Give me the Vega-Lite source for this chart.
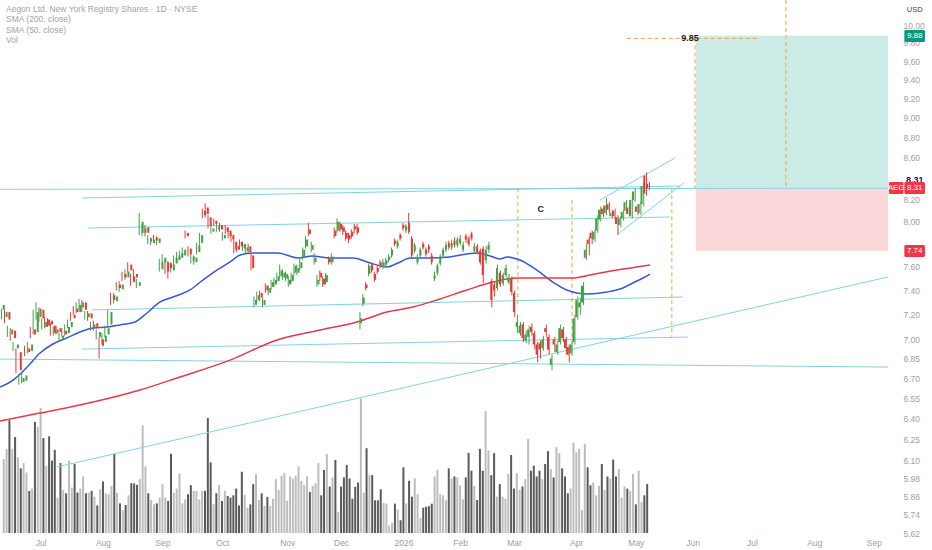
{
  "$schema": "https://vega.github.io/schema/vega-lite/v6.json",
  "description": "Aegon daily candles with SMA 50/200, volume, trendlines and a long-position box.",
  "width": 888,
  "height": 533,
  "autosize": {"type": "none"},
  "padding": {"left": 0, "top": 0, "right": 44, "bottom": 17},
  "background": "#ffffff",
  "title": {
    "text": ["Aegon Ltd. New York Registry Shares · 1D · NYSE", "SMA (200, close)", "SMA (50, close)", "Vol"],
    "anchor": "start",
    "frame": "group",
    "orient": "top",
    "baseline": "top",
    "offset": 0,
    "dx": 6,
    "dy": 45,
    "font": "Liberation Sans",
    "fontSize": 8.5,
    "fontWeight": "normal",
    "color": "#a3a3a3",
    "lineHeight": 10.3
  },
  "datasets": {
    "candles": [
      {"i":-13,"o":7.24,"h":7.30,"l":7.22,"c":7.28,"v":5.50},
      {"i":-12,"o":7.18,"h":7.25,"l":7.16,"c":7.22,"v":6.25},
      {"i":-11,"o":7.22,"h":7.24,"l":7.13,"c":7.16,"v":8.38},
      {"i":-10,"o":7.04,"h":7.11,"l":7.02,"c":7.08,"v":6.25},
      {"i":-9,"o":7.07,"h":7.09,"l":6.99,"c":7.01,"v":7.13},
      {"i":-8,"o":6.93,"h":6.98,"l":6.91,"c":6.96,"v":5.63},
      {"i":-7,"o":6.90,"h":6.93,"l":6.74,"c":6.76,"v":4.80},
      {"i":-6,"o":6.67,"h":6.73,"l":6.65,"c":6.70,"v":5.20},
      {"i":-5,"o":6.68,"h":6.75,"l":6.66,"c":6.72,"v":4.50},
      {"i":-4,"o":6.93,"h":6.95,"l":6.87,"c":6.90,"v":3.13},
      {"i":-3,"o":6.91,"h":6.98,"l":6.89,"c":6.96,"v":3.30},
      {"i":-2,"o":7.08,"h":7.10,"l":7.01,"c":7.04,"v":8.25},
      {"i":-1,"o":7.06,"h":7.24,"l":7.04,"c":7.22,"v":7.88},
      {"i":0,"o":7.18,"h":7.30,"l":7.16,"c":7.25,"v":9.30},
      {"i":1,"o":7.24,"h":7.26,"l":7.14,"c":7.17,"v":7.05},
      {"i":2,"o":7.10,"h":7.17,"l":7.08,"c":7.14,"v":5.00},
      {"i":3,"o":7.16,"h":7.18,"l":7.09,"c":7.11,"v":7.18},
      {"i":4,"o":7.15,"h":7.17,"l":7.10,"c":7.12,"v":5.38},
      {"i":5,"o":7.11,"h":7.13,"l":7.03,"c":7.05,"v":6.18},
      {"i":6,"o":7.05,"h":7.10,"l":7.03,"c":7.08,"v":2.63},
      {"i":7,"o":7.09,"h":7.11,"l":7.04,"c":7.06,"v":5.20},
      {"i":8,"o":7.00,"h":7.05,"l":6.98,"c":7.03,"v":3.20},
      {"i":9,"o":7.07,"h":7.09,"l":7.02,"c":7.04,"v":2.95},
      {"i":10,"o":7.05,"h":7.12,"l":7.03,"c":7.10,"v":5.38},
      {"i":11,"o":7.10,"h":7.16,"l":7.09,"c":7.14,"v":3.38},
      {"i":12,"o":7.20,"h":7.22,"l":7.15,"c":7.17,"v":5.13},
      {"i":13,"o":7.25,"h":7.27,"l":7.20,"c":7.22,"v":3.00},
      {"i":14,"o":7.22,"h":7.30,"l":7.21,"c":7.28,"v":3.30},
      {"i":15,"o":7.26,"h":7.33,"l":7.24,"c":7.30,"v":4.20},
      {"i":16,"o":7.30,"h":7.32,"l":7.22,"c":7.24,"v":2.95},
      {"i":17,"o":7.18,"h":7.23,"l":7.16,"c":7.21,"v":3.00},
      {"i":18,"o":7.21,"h":7.23,"l":7.15,"c":7.17,"v":3.13},
      {"i":19,"o":7.09,"h":7.14,"l":7.07,"c":7.12,"v":2.70},
      {"i":20,"o":7.13,"h":7.15,"l":7.07,"c":7.09,"v":2.05},
      {"i":21,"o":7.02,"h":7.08,"l":7.00,"c":7.06,"v":3.25},
      {"i":22,"o":7.00,"h":7.02,"l":6.85,"c":6.95,"v":3.83},
      {"i":23,"o":6.98,"h":7.05,"l":6.96,"c":7.03,"v":2.95},
      {"i":24,"o":7.04,"h":7.11,"l":7.02,"c":7.09,"v":2.88},
      {"i":25,"o":7.12,"h":7.24,"l":7.10,"c":7.22,"v":3.50},
      {"i":26,"o":7.36,"h":7.38,"l":7.28,"c":7.32,"v":5.88},
      {"i":27,"o":7.31,"h":7.38,"l":7.29,"c":7.35,"v":3.00},
      {"i":28,"o":7.45,"h":7.47,"l":7.40,"c":7.42,"v":2.20},
      {"i":29,"o":7.41,"h":7.48,"l":7.39,"c":7.45,"v":1.70},
      {"i":30,"o":7.54,"h":7.56,"l":7.48,"c":7.51,"v":2.08},
      {"i":31,"o":7.51,"h":7.58,"l":7.49,"c":7.56,"v":2.80},
      {"i":32,"o":7.62,"h":7.64,"l":7.55,"c":7.57,"v":3.70},
      {"i":33,"o":7.52,"h":7.54,"l":7.44,"c":7.47,"v":3.68},
      {"i":34,"o":7.54,"h":7.58,"l":7.49,"c":7.51,"v":3.58},
      {"i":35,"o":7.44,"h":7.50,"l":7.42,"c":7.47,"v":4.00},
      {"i":36,"o":7.90,"h":8.08,"l":7.88,"c":8.00,"v":8.00},
      {"i":37,"o":7.90,"h":7.98,"l":7.87,"c":7.94,"v":4.95},
      {"i":38,"o":7.95,"h":7.97,"l":7.87,"c":7.90,"v":2.95},
      {"i":39,"o":7.82,"h":7.88,"l":7.80,"c":7.85,"v":2.45},
      {"i":40,"o":7.81,"h":7.86,"l":7.79,"c":7.84,"v":2.13},
      {"i":41,"o":7.86,"h":7.88,"l":7.81,"c":7.83,"v":2.20},
      {"i":42,"o":7.81,"h":7.87,"l":7.79,"c":7.85,"v":2.63},
      {"i":43,"o":7.58,"h":7.67,"l":7.56,"c":7.64,"v":3.63},
      {"i":44,"o":7.64,"h":7.71,"l":7.62,"c":7.68,"v":2.63},
      {"i":45,"o":7.64,"h":7.66,"l":7.54,"c":7.56,"v":2.38},
      {"i":46,"o":7.63,"h":7.65,"l":7.50,"c":7.59,"v":5.88},
      {"i":47,"o":7.57,"h":7.64,"l":7.55,"c":7.62,"v":3.00},
      {"i":48,"o":7.63,"h":7.70,"l":7.61,"c":7.68,"v":3.30},
      {"i":49,"o":7.66,"h":7.73,"l":7.64,"c":7.70,"v":4.43},
      {"i":50,"o":7.68,"h":7.74,"l":7.66,"c":7.72,"v":2.20},
      {"i":51,"o":7.70,"h":7.77,"l":7.68,"c":7.75,"v":2.50},
      {"i":52,"o":7.90,"h":7.92,"l":7.85,"c":7.87,"v":2.88},
      {"i":53,"o":7.76,"h":7.78,"l":7.69,"c":7.71,"v":3.55},
      {"i":54,"o":7.65,"h":7.72,"l":7.63,"c":7.69,"v":3.13},
      {"i":55,"o":7.64,"h":7.70,"l":7.62,"c":7.68,"v":3.13},
      {"i":56,"o":7.73,"h":7.81,"l":7.71,"c":7.79,"v":2.50},
      {"i":57,"o":7.81,"h":7.90,"l":7.79,"c":7.88,"v":3.13},
      {"i":58,"o":8.10,"h":8.12,"l":8.03,"c":8.06,"v":3.13},
      {"i":59,"o":8.13,"h":8.17,"l":8.04,"c":8.07,"v":8.55},
      {"i":60,"o":8.04,"h":8.06,"l":7.94,"c":7.96,"v":5.25},
      {"i":61,"o":7.91,"h":7.97,"l":7.89,"c":7.94,"v":2.13},
      {"i":62,"o":8.01,"h":8.03,"l":7.96,"c":7.98,"v":2.95},
      {"i":63,"o":7.93,"h":7.99,"l":7.91,"c":7.96,"v":3.58},
      {"i":64,"o":7.97,"h":7.99,"l":7.91,"c":7.93,"v":2.38},
      {"i":65,"o":7.85,"h":7.91,"l":7.83,"c":7.88,"v":3.13},
      {"i":66,"o":7.95,"h":7.97,"l":7.89,"c":7.91,"v":2.75},
      {"i":67,"o":7.92,"h":7.94,"l":7.85,"c":7.87,"v":2.63},
      {"i":68,"o":7.88,"h":7.90,"l":7.82,"c":7.84,"v":2.80},
      {"i":69,"o":7.82,"h":7.84,"l":7.72,"c":7.75,"v":3.30},
      {"i":70,"o":7.78,"h":7.80,"l":7.73,"c":7.75,"v":2.05},
      {"i":71,"o":7.82,"h":7.84,"l":7.76,"c":7.78,"v":4.55},
      {"i":72,"o":7.76,"h":7.82,"l":7.74,"c":7.80,"v":2.83},
      {"i":73,"o":7.74,"h":7.80,"l":7.72,"c":7.77,"v":1.88},
      {"i":74,"o":7.78,"h":7.80,"l":7.71,"c":7.73,"v":2.13},
      {"i":75,"o":7.70,"h":7.72,"l":7.57,"c":7.59,"v":3.63},
      {"i":76,"o":7.28,"h":7.35,"l":7.26,"c":7.32,"v":4.38},
      {"i":77,"o":7.32,"h":7.39,"l":7.30,"c":7.36,"v":2.45},
      {"i":78,"o":7.38,"h":7.40,"l":7.31,"c":7.34,"v":2.95},
      {"i":79,"o":7.28,"h":7.34,"l":7.26,"c":7.32,"v":2.00},
      {"i":80,"o":7.44,"h":7.46,"l":7.38,"c":7.40,"v":2.68},
      {"i":81,"o":7.38,"h":7.44,"l":7.36,"c":7.42,"v":2.00},
      {"i":82,"o":7.43,"h":7.49,"l":7.41,"c":7.47,"v":2.55},
      {"i":83,"o":7.45,"h":7.51,"l":7.43,"c":7.49,"v":4.00},
      {"i":84,"o":7.48,"h":7.55,"l":7.46,"c":7.52,"v":3.20},
      {"i":85,"o":7.52,"h":7.62,"l":7.50,"c":7.57,"v":4.25},
      {"i":86,"o":7.51,"h":7.58,"l":7.49,"c":7.55,"v":4.45},
      {"i":87,"o":7.50,"h":7.56,"l":7.48,"c":7.54,"v":2.40},
      {"i":88,"o":7.45,"h":7.52,"l":7.43,"c":7.49,"v":4.20},
      {"i":89,"o":7.48,"h":7.55,"l":7.46,"c":7.53,"v":4.05},
      {"i":90,"o":7.55,"h":7.63,"l":7.53,"c":7.61,"v":4.25},
      {"i":91,"o":7.55,"h":7.62,"l":7.53,"c":7.59,"v":4.95},
      {"i":92,"o":7.59,"h":7.67,"l":7.57,"c":7.64,"v":3.88},
      {"i":93,"o":7.68,"h":7.77,"l":7.66,"c":7.75,"v":3.55},
      {"i":94,"o":7.78,"h":7.87,"l":7.76,"c":7.84,"v":4.20},
      {"i":95,"o":7.93,"h":7.99,"l":7.87,"c":7.89,"v":3.05},
      {"i":96,"o":7.75,"h":7.82,"l":7.73,"c":7.79,"v":3.50},
      {"i":97,"o":7.64,"h":7.72,"l":7.62,"c":7.68,"v":3.70},
      {"i":98,"o":7.45,"h":7.53,"l":7.43,"c":7.49,"v":5.20},
      {"i":99,"o":7.55,"h":7.57,"l":7.48,"c":7.51,"v":2.80},
      {"i":100,"o":7.50,"h":7.52,"l":7.43,"c":7.45,"v":4.68},
      {"i":101,"o":7.47,"h":7.55,"l":7.45,"c":7.53,"v":5.88},
      {"i":102,"o":7.67,"h":7.69,"l":7.62,"c":7.64,"v":3.45},
      {"i":103,"o":7.64,"h":7.72,"l":7.62,"c":7.69,"v":4.13},
      {"i":104,"o":7.92,"h":7.95,"l":7.85,"c":7.87,"v":5.43},
      {"i":105,"o":7.92,"h":8.03,"l":7.90,"c":8.00,"v":1.58},
      {"i":106,"o":7.98,"h":8.00,"l":7.91,"c":7.93,"v":3.45},
      {"i":107,"o":7.95,"h":7.97,"l":7.88,"c":7.91,"v":4.13},
      {"i":108,"o":7.90,"h":7.92,"l":7.83,"c":7.85,"v":5.05},
      {"i":109,"o":7.88,"h":7.90,"l":7.81,"c":7.84,"v":4.05},
      {"i":110,"o":7.91,"h":7.93,"l":7.85,"c":7.87,"v":2.55},
      {"i":111,"o":7.96,"h":7.98,"l":7.90,"c":7.93,"v":3.43},
      {"i":112,"o":7.95,"h":7.98,"l":7.88,"c":7.90,"v":3.75},
      {"i":113,"o":7.13,"h":7.22,"l":7.08,"c":7.17,"v":10.00},
      {"i":114,"o":7.29,"h":7.37,"l":7.27,"c":7.34,"v":3.00},
      {"i":115,"o":7.45,"h":7.47,"l":7.40,"c":7.42,"v":6.30},
      {"i":116,"o":7.54,"h":7.63,"l":7.52,"c":7.61,"v":4.30},
      {"i":117,"o":7.62,"h":7.64,"l":7.55,"c":7.57,"v":4.30},
      {"i":118,"o":7.54,"h":7.56,"l":7.47,"c":7.49,"v":2.43},
      {"i":119,"o":7.59,"h":7.61,"l":7.54,"c":7.56,"v":2.43},
      {"i":120,"o":7.64,"h":7.66,"l":7.59,"c":7.61,"v":3.25},
      {"i":121,"o":7.60,"h":7.67,"l":7.58,"c":7.64,"v":2.25},
      {"i":122,"o":7.62,"h":7.68,"l":7.60,"c":7.66,"v":2.18},
      {"i":123,"o":7.66,"h":7.71,"l":7.64,"c":7.69,"v":0.55},
      {"i":124,"o":7.70,"h":7.77,"l":7.68,"c":7.75,"v":0.75},
      {"i":125,"o":7.83,"h":7.85,"l":7.78,"c":7.80,"v":2.18},
      {"i":126,"o":7.78,"h":7.84,"l":7.76,"c":7.82,"v":1.75},
      {"i":127,"o":7.88,"h":7.90,"l":7.83,"c":7.85,"v":0.95},
      {"i":128,"o":7.97,"h":7.99,"l":7.92,"c":7.94,"v":4.88},
      {"i":129,"o":7.92,"h":7.98,"l":7.90,"c":7.96,"v":2.20},
      {"i":130,"o":7.99,"h":8.08,"l":7.89,"c":7.91,"v":3.88},
      {"i":131,"o":7.85,"h":7.87,"l":7.68,"c":7.70,"v":2.70},
      {"i":132,"o":7.74,"h":7.81,"l":7.72,"c":7.79,"v":4.05},
      {"i":133,"o":7.64,"h":7.71,"l":7.62,"c":7.68,"v":2.88},
      {"i":134,"o":7.70,"h":7.77,"l":7.68,"c":7.75,"v":1.13},
      {"i":135,"o":7.80,"h":7.82,"l":7.75,"c":7.77,"v":1.88},
      {"i":136,"o":7.75,"h":7.77,"l":7.69,"c":7.71,"v":1.95},
      {"i":137,"o":7.78,"h":7.80,"l":7.72,"c":7.75,"v":2.00},
      {"i":138,"o":7.70,"h":7.72,"l":7.62,"c":7.64,"v":2.18},
      {"i":139,"o":7.50,"h":7.56,"l":7.48,"c":7.53,"v":4.20},
      {"i":140,"o":7.55,"h":7.63,"l":7.53,"c":7.61,"v":4.70},
      {"i":141,"o":7.63,"h":7.71,"l":7.61,"c":7.69,"v":2.88},
      {"i":142,"o":7.70,"h":7.77,"l":7.68,"c":7.75,"v":2.80},
      {"i":143,"o":7.75,"h":7.82,"l":7.73,"c":7.79,"v":2.43},
      {"i":144,"o":7.81,"h":7.83,"l":7.75,"c":7.77,"v":4.80},
      {"i":145,"o":7.77,"h":7.84,"l":7.75,"c":7.81,"v":4.05},
      {"i":146,"o":7.83,"h":7.86,"l":7.77,"c":7.79,"v":4.20},
      {"i":147,"o":7.79,"h":7.86,"l":7.77,"c":7.84,"v":4.13},
      {"i":148,"o":7.81,"h":7.88,"l":7.79,"c":7.85,"v":3.55},
      {"i":149,"o":7.75,"h":7.82,"l":7.73,"c":7.79,"v":2.50},
      {"i":150,"o":7.87,"h":7.89,"l":7.81,"c":7.84,"v":4.13},
      {"i":151,"o":7.85,"h":7.87,"l":7.78,"c":7.80,"v":5.95},
      {"i":152,"o":7.89,"h":7.91,"l":7.83,"c":7.85,"v":4.63},
      {"i":153,"o":7.74,"h":7.81,"l":7.72,"c":7.78,"v":3.50},
      {"i":154,"o":7.78,"h":7.80,"l":7.71,"c":7.73,"v":2.45},
      {"i":155,"o":7.74,"h":7.76,"l":7.62,"c":7.64,"v":6.25},
      {"i":156,"o":7.76,"h":7.78,"l":7.46,"c":7.53,"v":4.63},
      {"i":157,"o":7.66,"h":7.78,"l":7.63,"c":7.75,"v":9.05},
      {"i":158,"o":7.75,"h":7.82,"l":7.72,"c":7.79,"v":6.13},
      {"i":159,"o":7.48,"h":7.50,"l":7.26,"c":7.32,"v":4.30},
      {"i":160,"o":7.45,"h":7.47,"l":7.35,"c":7.40,"v":5.93},
      {"i":161,"o":7.42,"h":7.62,"l":7.40,"c":7.59,"v":2.70},
      {"i":162,"o":7.55,"h":7.57,"l":7.43,"c":7.45,"v":3.63},
      {"i":163,"o":7.46,"h":7.55,"l":7.44,"c":7.53,"v":2.70},
      {"i":164,"o":7.53,"h":7.62,"l":7.51,"c":7.59,"v":2.55},
      {"i":165,"o":7.47,"h":7.54,"l":7.45,"c":7.51,"v":4.38},
      {"i":166,"o":7.50,"h":7.52,"l":7.36,"c":7.39,"v":5.80},
      {"i":167,"o":7.38,"h":7.40,"l":7.18,"c":7.22,"v":3.30},
      {"i":168,"o":7.10,"h":7.20,"l":7.05,"c":7.14,"v":4.45},
      {"i":169,"o":7.05,"h":7.14,"l":7.03,"c":7.11,"v":3.20},
      {"i":170,"o":7.12,"h":7.14,"l":6.98,"c":7.01,"v":3.45},
      {"i":171,"o":6.99,"h":7.07,"l":6.97,"c":7.04,"v":4.00},
      {"i":172,"o":7.02,"h":7.11,"l":6.96,"c":7.08,"v":7.00},
      {"i":173,"o":7.10,"h":7.13,"l":7.03,"c":7.06,"v":4.63},
      {"i":174,"o":7.05,"h":7.07,"l":6.92,"c":6.96,"v":5.00},
      {"i":175,"o":6.96,"h":6.98,"l":6.82,"c":6.88,"v":4.20},
      {"i":176,"o":6.97,"h":6.99,"l":6.85,"c":6.92,"v":4.63},
      {"i":177,"o":6.93,"h":7.03,"l":6.91,"c":7.00,"v":4.00},
      {"i":178,"o":7.09,"h":7.12,"l":7.02,"c":7.06,"v":5.13},
      {"i":179,"o":7.02,"h":7.04,"l":6.88,"c":6.92,"v":6.08},
      {"i":180,"o":6.80,"h":6.88,"l":6.76,"c":6.85,"v":4.75},
      {"i":181,"o":7.00,"h":7.02,"l":6.90,"c":6.96,"v":4.13},
      {"i":182,"o":6.90,"h":6.99,"l":6.88,"c":6.96,"v":6.38},
      {"i":183,"o":6.98,"h":7.12,"l":6.96,"c":7.09,"v":5.93},
      {"i":184,"o":7.08,"h":7.10,"l":6.98,"c":7.01,"v":4.80},
      {"i":185,"o":7.00,"h":7.02,"l":6.88,"c":6.93,"v":4.20},
      {"i":186,"o":6.94,"h":6.96,"l":6.82,"c":6.88,"v":2.95},
      {"i":187,"o":6.89,"h":6.98,"l":6.87,"c":6.96,"v":3.30},
      {"i":188,"o":6.98,"h":7.20,"l":6.96,"c":7.17,"v":6.70},
      {"i":189,"o":7.18,"h":7.35,"l":7.16,"c":7.32,"v":6.00},
      {"i":190,"o":7.26,"h":7.34,"l":7.20,"c":7.30,"v":6.25},
      {"i":191,"o":7.30,"h":7.47,"l":7.28,"c":7.44,"v":1.70},
      {"i":192,"o":7.68,"h":7.80,"l":7.66,"c":7.75,"v":6.63},
      {"i":193,"o":7.84,"h":7.86,"l":7.70,"c":7.80,"v":4.88},
      {"i":194,"o":7.90,"h":7.92,"l":7.80,"c":7.85,"v":3.55},
      {"i":195,"o":7.84,"h":7.93,"l":7.82,"c":7.91,"v":3.75},
      {"i":196,"o":7.92,"h":8.06,"l":7.90,"c":8.03,"v":2.80},
      {"i":197,"o":8.02,"h":8.14,"l":8.00,"c":8.11,"v":3.50},
      {"i":198,"o":8.12,"h":8.14,"l":8.04,"c":8.07,"v":5.13},
      {"i":199,"o":8.08,"h":8.22,"l":8.06,"c":8.15,"v":3.20},
      {"i":200,"o":8.16,"h":8.18,"l":8.08,"c":8.11,"v":4.20},
      {"i":201,"o":8.05,"h":8.11,"l":8.03,"c":8.08,"v":4.05},
      {"i":202,"o":8.10,"h":8.12,"l":8.02,"c":8.05,"v":5.45},
      {"i":203,"o":8.04,"h":8.06,"l":7.88,"c":7.98,"v":4.20},
      {"i":204,"o":7.97,"h":8.05,"l":7.95,"c":8.03,"v":4.75},
      {"i":205,"o":8.03,"h":8.11,"l":8.01,"c":8.09,"v":2.63},
      {"i":206,"o":8.10,"h":8.20,"l":8.08,"c":8.18,"v":3.45},
      {"i":207,"o":8.13,"h":8.15,"l":8.05,"c":8.07,"v":3.30},
      {"i":208,"o":8.05,"h":8.23,"l":8.03,"c":8.20,"v":3.13},
      {"i":209,"o":8.20,"h":8.31,"l":8.18,"c":8.28,"v":4.38},
      {"i":210,"o":8.14,"h":8.16,"l":8.06,"c":8.09,"v":2.13},
      {"i":211,"o":8.08,"h":8.18,"l":8.06,"c":8.16,"v":4.63},
      {"i":212,"o":8.16,"h":8.36,"l":8.14,"c":8.33,"v":2.30},
      {"i":213,"o":8.43,"h":8.46,"l":8.24,"c":8.26,"v":2.80},
      {"i":214,"o":8.35,"h":8.37,"l":8.29,"c":8.31,"v":3.63}
    ],
    "sma": [
      {"s":"SMA 50","i":-12.6,"p":6.632},{"s":"SMA 50","i":-8.0,"p":6.685},{"s":"SMA 50","i":-3.1,"p":6.784},
      {"s":"SMA 50","i":1.4,"p":6.893},{"s":"SMA 50","i":5.9,"p":6.964},{"s":"SMA 50","i":10.8,"p":7.012},
      {"s":"SMA 50","i":15.3,"p":7.059},{"s":"SMA 50","i":19.9,"p":7.091},{"s":"SMA 50","i":24.8,"p":7.099},
      {"s":"SMA 50","i":29.3,"p":7.116},{"s":"SMA 50","i":34.5,"p":7.140},{"s":"SMA 50","i":38.7,"p":7.213},
      {"s":"SMA 50","i":43.3,"p":7.304},{"s":"SMA 50","i":47.8,"p":7.345},{"s":"SMA 50","i":53.7,"p":7.404},
      {"s":"SMA 50","i":58.2,"p":7.488},{"s":"SMA 50","i":63.1,"p":7.573},{"s":"SMA 50","i":67.7,"p":7.643},
      {"s":"SMA 50","i":71.2,"p":7.704},{"s":"SMA 50","i":75.7,"p":7.721},{"s":"SMA 50","i":84.4,"p":7.721},
      {"s":"SMA 50","i":91.4,"p":7.678},{"s":"SMA 50","i":96.3,"p":7.695},{"s":"SMA 50","i":102.5,"p":7.678},
      {"s":"SMA 50","i":110.6,"p":7.678},{"s":"SMA 50","i":115.5,"p":7.643},{"s":"SMA 50","i":122.4,"p":7.600},
      {"s":"SMA 50","i":126.3,"p":7.634},{"s":"SMA 50","i":130.5,"p":7.678},{"s":"SMA 50","i":136.4,"p":7.678},
      {"s":"SMA 50","i":144.4,"p":7.687},{"s":"SMA 50","i":150.3,"p":7.713},{"s":"SMA 50","i":153.8,"p":7.721},
      {"s":"SMA 50","i":158.4,"p":7.695},{"s":"SMA 50","i":161.8,"p":7.669},{"s":"SMA 50","i":164.3,"p":7.687},
      {"s":"SMA 50","i":168.8,"p":7.660},{"s":"SMA 50","i":174.7,"p":7.573},{"s":"SMA 50","i":180.3,"p":7.471},
      {"s":"SMA 50","i":185.2,"p":7.404},{"s":"SMA 50","i":188.7,"p":7.379},{"s":"SMA 50","i":192.2,"p":7.370},
      {"s":"SMA 50","i":199.2,"p":7.387},{"s":"SMA 50","i":204.7,"p":7.421},{"s":"SMA 50","i":208.2,"p":7.463},
      {"s":"SMA 50","i":211.7,"p":7.505},{"s":"SMA 50","i":214.2,"p":7.539},
      {"s":"SMA 200","i":-12.6,"p":6.381},{"s":"SMA 200","i":1.4,"p":6.439},{"s":"SMA 200","i":15.3,"p":6.498},
      {"s":"SMA 200","i":25.8,"p":6.550},{"s":"SMA 200","i":36.3,"p":6.610},{"s":"SMA 200","i":50.2,"p":6.708},
      {"s":"SMA 200","i":67.7,"p":6.838},{"s":"SMA 200","i":84.1,"p":6.996},{"s":"SMA 200","i":99.1,"p":7.075},
      {"s":"SMA 200","i":112.0,"p":7.140},{"s":"SMA 200","i":122.4,"p":7.221},{"s":"SMA 200","i":131.5,"p":7.262},
      {"s":"SMA 200","i":140.9,"p":7.329},{"s":"SMA 200","i":150.3,"p":7.404},{"s":"SMA 200","i":159.4,"p":7.471},
      {"s":"SMA 200","i":167.8,"p":7.505},{"s":"SMA 200","i":178.2,"p":7.505},{"s":"SMA 200","i":187.3,"p":7.505},
      {"s":"SMA 200","i":193.2,"p":7.531},{"s":"SMA 200","i":202.7,"p":7.573},{"s":"SMA 200","i":214.2,"p":7.617}
    ],
    "trendlines": [
      {"i":-13,"p":8.30,"i2":297.2,"p2":8.31},
      {"i":16.0,"p":8.218,"i2":224.6,"p2":8.331},
      {"i":18.1,"p":7.943,"i2":221.1,"p2":8.043},
      {"i":19.5,"p":7.238,"i2":225.7,"p2":7.345},
      {"i":16.0,"p":6.924,"i2":227.4,"p2":7.019},
      {"i":-13,"p":6.846,"i2":297.2,"p2":6.784},
      {"i":7.3,"p":6.057,"i2":297.2,"p2":7.514},
      {"i":196.7,"p":8.199,"i2":222.9,"p2":8.600},
      {"i":203.0,"p":7.889,"i2":226.0,"p2":8.359}
    ],
    "dashes": [
      {"i":168.1,"p":8.31,"i2":168.1,"p2":7.26},
      {"i":187.0,"p":8.20,"i2":187.0,"p2":6.97},
      {"i":221.8,"p":8.31,"i2":221.8,"p2":7.02},
      {"i":229.9,"p":9.85,"i2":229.9,"p2":8.31},
      {"i":261.6,"p":10.288,"i2":261.6,"p2":8.31},
      {"i":206.1,"p":9.85,"i2":252.5,"p2":9.85}
    ],
    "zones": [
      {"z":"target","i":230.2,"i2":297.2,"p":9.88,"p2":8.31},
      {"z":"stop","i":230.2,"i2":297.2,"p":8.31,"p2":7.74}
    ],
    "notes": [
      {"label":"C","i":176.1,"p":8.12},
      {"label":"9.85","i":228.1,"p":9.85},
      {"label":"8.31","i":306.5,"p":8.39}
    ],
    "tags": [
      {"k":"up","label":"9.88","i":302.9,"i2":310.1,"p":9.943,"p2":9.809,"ti":306.5,"tp":9.88},
      {"k":"down","label":"AEG","i":297.5,"i2":302.6,"p":8.369,"p2":8.255,"ti":300.05,"tp":8.31},
      {"k":"down","label":"8.31","i":302.9,"i2":310.1,"p":8.369,"p2":8.255,"ti":306.5,"tp":8.31},
      {"k":"down","label":"7.74","i":302.9,"i2":310.1,"p":7.791,"p2":7.686,"ti":306.5,"tp":7.74}
    ],
    "currency": [
      {"label":"USD","i":306.5,"p":10.17}
    ]
  },
  "layer": [
    {
      "data": {"name": "candles"},
      "mark": {"type": "bar", "size": 2},
      "encoding": {
        "x": {
          "field": "i",
          "type": "quantitative",
          "scale": {"domain": [-12.56, 297.2], "nice": false, "zero": false},
          "axis": {
            "title": null,
            "orient": "bottom",
            "values": [0, 22, 43, 64, 87, 106, 128, 148, 167, 189, 210, 230, 251, 273, 294],
            "labelExpr": "['Jul','Aug','Sep','Oct','Nov','Dec','2026','Feb','Mar','Apr','May','Jun','Jul','Aug','Sep'][indexof([0,22,43,64,87,106,128,148,167,189,210,230,251,273,294], datum.value)]",
            "domain": false,
            "ticks": false,
            "grid": false,
            "labelPadding": 5,
            "labelOverlap": false,
            "labelFont": "Liberation Sans",
            "labelFontSize": 8.5,
            "labelColor": "#a0a0a0"
          }
        },
        "y": {"field": "v", "type": "quantitative", "scale": {"domain": [0, 39.6]}, "axis": null},
        "color": {"condition": {"test": "datum.c >= datum.o", "value": "#bdbdbd"}, "value": "#5a5a5a"}
      }
    },
    {
      "data": {"name": "zones"},
      "mark": {"type": "rect"},
      "encoding": {
        "x": {"field": "i", "type": "quantitative", "scale": {"domain": [-12.56, 297.2], "nice": false, "zero": false}, "axis": null},
        "x2": {"field": "i2"},
        "y": {"field": "p", "type": "quantitative", "scale": {"type": "log", "domain": [5.62, 10.288], "nice": false}, "axis": null},
        "y2": {"field": "p2"},
        "color": {"field": "z", "type": "nominal", "scale": {"domain": ["target", "stop"], "range": ["#cdebe6", "#fbd7da"]}, "legend": null}
      }
    },
    {
      "data": {"name": "trendlines"},
      "mark": {"type": "rule", "color": "#82d3e1", "strokeWidth": 1, "clip": true},
      "encoding": {
        "x": {"field": "i", "type": "quantitative", "scale": {"domain": [-12.56, 297.2], "nice": false, "zero": false}, "axis": null},
        "x2": {"field": "i2"},
        "y": {"field": "p", "type": "quantitative", "scale": {"type": "log", "domain": [5.62, 10.288], "nice": false}, "axis": null},
        "y2": {"field": "p2"}
      }
    },
    {
      "data": {"name": "dashes"},
      "mark": {"type": "rule", "color": "#f5a03a", "strokeWidth": 1, "strokeDash": [4, 3]},
      "encoding": {
        "x": {"field": "i", "type": "quantitative", "scale": {"domain": [-12.56, 297.2], "nice": false, "zero": false}, "axis": null},
        "x2": {"field": "i2"},
        "y": {"field": "p", "type": "quantitative", "scale": {"type": "log", "domain": [5.62, 10.288], "nice": false}, "axis": null},
        "y2": {"field": "p2"}
      }
    },
    {
      "data": {"name": "sma"},
      "mark": {"type": "line", "strokeWidth": 1.5, "interpolate": "monotone", "clip": true},
      "encoding": {
        "x": {"field": "i", "type": "quantitative", "scale": {"domain": [-12.56, 297.2], "nice": false, "zero": false}, "axis": null},
        "y": {"field": "p", "type": "quantitative", "scale": {"type": "log", "domain": [5.62, 10.288], "nice": false}, "axis": null},
        "color": {"field": "s", "type": "nominal", "scale": {"domain": ["SMA 200", "SMA 50"], "range": ["#e6394a", "#3558d8"]}, "legend": null}
      }
    },
    {
      "data": {"name": "candles"},
      "mark": {"type": "rule", "strokeWidth": 1},
      "encoding": {
        "x": {"field": "i", "type": "quantitative", "scale": {"domain": [-12.56, 297.2], "nice": false, "zero": false}, "axis": null},
        "y": {
          "field": "l",
          "type": "quantitative",
          "scale": {"type": "log", "domain": [5.62, 10.288], "nice": false},
          "axis": {
            "title": null,
            "orient": "right",
            "values": [10, 9.8, 9.6, 9.4, 9.2, 9, 8.8, 8.6, 8.2, 8, 7.6, 7.4, 7.2, 7, 6.85, 6.7, 6.55, 6.4, 6.25, 6.1, 5.98, 5.86, 5.74, 5.62],
            "format": ".2f",
            "domain": false,
            "ticks": false,
            "grid": false,
            "labelAlign": "left",
            "labelPadding": 15,
            "labelOverlap": false,
            "labelFont": "Liberation Sans",
            "labelFontSize": 8.5,
            "labelColor": "#a0a0a0"
          }
        },
        "y2": {"field": "h"},
        "color": {"condition": {"test": "datum.c >= datum.o", "value": "#43a047"}, "value": "#e53935"}
      }
    },
    {
      "data": {"name": "candles"},
      "mark": {"type": "bar", "size": 2},
      "encoding": {
        "x": {"field": "i", "type": "quantitative", "scale": {"domain": [-12.56, 297.2], "nice": false, "zero": false}, "axis": null},
        "y": {"field": "o", "type": "quantitative", "scale": {"type": "log", "domain": [5.62, 10.288], "nice": false}, "axis": null},
        "y2": {"field": "c"},
        "color": {"condition": {"test": "datum.c >= datum.o", "value": "#43a047"}, "value": "#e53935"}
      }
    },
    {
      "data": {"name": "notes"},
      "mark": {"type": "text", "font": "Liberation Sans", "fontSize": 9, "fontWeight": "bold", "color": "#222222"},
      "encoding": {
        "x": {"field": "i", "type": "quantitative", "scale": {"domain": [-12.56, 297.2], "nice": false, "zero": false}, "axis": null},
        "y": {"field": "p", "type": "quantitative", "scale": {"type": "log", "domain": [5.62, 10.288], "nice": false}, "axis": null},
        "text": {"field": "label"}
      }
    },
    {
      "data": {"name": "tags"},
      "mark": {"type": "rect", "cornerRadius": 1.5},
      "encoding": {
        "x": {"field": "i", "type": "quantitative", "scale": {"domain": [-12.56, 297.2], "nice": false, "zero": false}, "axis": null},
        "x2": {"field": "i2"},
        "y": {"field": "p", "type": "quantitative", "scale": {"type": "log", "domain": [5.62, 10.288], "nice": false}, "axis": null},
        "y2": {"field": "p2"},
        "color": {"field": "k", "type": "nominal", "scale": {"domain": ["up", "down"], "range": ["#089981", "#f23645"]}, "legend": null}
      }
    },
    {
      "data": {"name": "tags"},
      "mark": {"type": "text", "font": "Liberation Sans", "fontSize": 8, "color": "#ffffff"},
      "encoding": {
        "x": {"field": "ti", "type": "quantitative", "scale": {"domain": [-12.56, 297.2], "nice": false, "zero": false}, "axis": null},
        "y": {"field": "tp", "type": "quantitative", "scale": {"type": "log", "domain": [5.62, 10.288], "nice": false}, "axis": null},
        "text": {"field": "label"}
      }
    },
    {
      "data": {"name": "currency"},
      "mark": {"type": "text", "font": "Liberation Sans", "fontSize": 7.5, "color": "#444444"},
      "encoding": {
        "x": {"field": "i", "type": "quantitative", "scale": {"domain": [-12.56, 297.2], "nice": false, "zero": false}, "axis": null},
        "y": {"field": "p", "type": "quantitative", "scale": {"type": "log", "domain": [5.62, 10.288], "nice": false}, "axis": null},
        "text": {"field": "label"}
      }
    }
  ],
  "resolve": {"scale": {"x": "independent", "y": "independent", "color": "independent"}},
  "config": {
    "view": {"stroke": null},
    "font": "Liberation Sans"
  }
}
